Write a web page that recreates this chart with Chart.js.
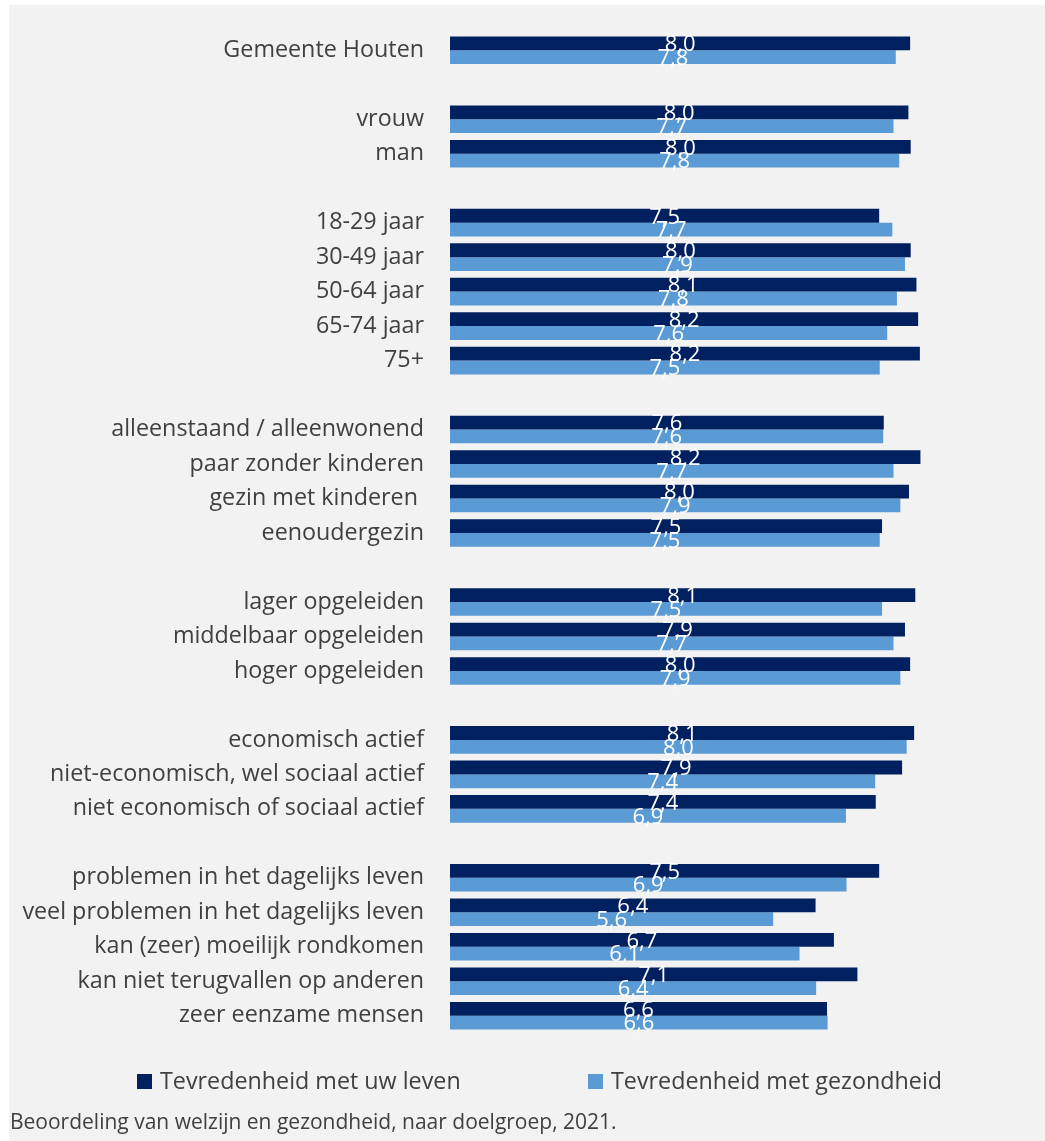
<!DOCTYPE html>
<html><head><meta charset="utf-8">
<script src="https://cdn.jsdelivr.net/npm/chart.js@4.4.1/dist/chart.umd.min.js"></script>
<style>
html,body{margin:0;padding:0;background:#fff;}
#wrap{position:absolute;left:0;top:0;width:1045px;height:1141px;}
</style></head><body>
<div id="wrap"><canvas id="c" width="1045" height="1141"></canvas></div>
<script>
const categories = ['Gemeente Houten','',
  'vrouw','man','',
  '18-29 jaar','30-49 jaar','50-64 jaar','65-74 jaar','75+','',
  'alleenstaand / alleenwonend','paar zonder kinderen','gezin met kinderen ','eenoudergezin','',
  'lager opgeleiden','middelbaar opgeleiden','hoger opgeleiden','',
  'economisch actief','niet-economisch, wel sociaal actief','niet economisch of sociaal actief','',
  'problemen in het dagelijks leven','veel problemen in het dagelijks leven','kan (zeer) moeilijk rondkomen','kan niet terugvallen op anderen','zeer eenzame mensen'];
const seriesNames = ['Tevredenheid met uw leven','Tevredenheid met gezondheid'];
const leven = [8.03,null,8.00,8.04,null,7.49,8.04,8.14,8.17,8.20,null,7.57,8.21,8.01,7.54,null,8.12,7.94,8.03,null,8.10,7.89,7.43,null,7.49,6.38,6.70,7.11,6.58];
const gezondheid = [7.78,null,7.74,7.84,null,7.72,7.94,7.80,7.63,7.50,null,7.56,7.74,7.86,7.50,null,7.54,7.74,7.86,null,7.97,7.42,6.91,null,6.92,5.64,6.10,6.39,6.59];
const caption = 'Beoordeling van welzijn en gezondheid, naar doelgroep, 2021.';

const fmt = v => v.toFixed(1).replace('.', ',');

const bgPlugin = {
  id:'bg',
  beforeDraw(chart){
    const ctx = chart.ctx;
    ctx.save();
    ctx.fillStyle = '#ffffff';
    ctx.fillRect(0,0,chart.width,chart.height);
    ctx.fillStyle = '#f2f2f2';
    ctx.fillRect(9,5,chart.width-9,chart.height-5);
    ctx.restore();
  }
};

const valueLabels = {
  id:'valueLabels',
  afterDatasetsDraw(chart){
    const ctx = chart.ctx;
    ctx.save();
    ctx.fillStyle = '#ffffff';
    ctx.font = '22px "Open Sans"';
    ctx.textAlign = 'center';
    ctx.textBaseline = 'middle';
    chart.data.datasets.forEach((ds, di) => {
      const meta = chart.getDatasetMeta(di);
      meta.data.forEach((el, i) => {
        const v = ds.data[i];
        if (v === null || v === undefined) return;
        const p = el.getProps(['x','y','base'], true);
        ctx.fillText(fmt(v), (p.x + p.base)/2, p.y + 1.5);
      });
    });
    ctx.restore();
  }
};

const legendCaption = {
  id:'legendCaption',
  afterDraw(chart){
    const ctx = chart.ctx;
    ctx.save();
    const xs = [137, 588];
    chart.data.datasets.forEach((ds, di) => {
      ctx.fillStyle = ds.backgroundColor;
      ctx.fillRect(xs[di], 1074, 15, 15);
      ctx.fillStyle = '#404040';
      ctx.font = '23.3px "Open Sans"';
      ctx.textAlign = 'left';
      ctx.textBaseline = 'middle';
      ctx.fillText(ds.label, xs[di] + 23, 1082);
    });
    ctx.font = '21px "Open Sans"';
    ctx.fillStyle = '#404040';
    ctx.textAlign = 'left';
    ctx.textBaseline = 'middle';
    ctx.fillText(caption, 10, 1123);
    ctx.restore();
  }
};

new Chart(document.getElementById('c'), {
  type:'bar',
  data:{
    labels: categories,
    datasets:[
      {label: seriesNames[0], data: leven, backgroundColor:'#002060', borderWidth:0, categoryPercentage:0.8, barPercentage:1.0},
      {label: seriesNames[1], data: gezondheid, backgroundColor:'#5B9BD5', borderWidth:0, categoryPercentage:0.8, barPercentage:1.0}
    ]
  },
  options:{
    indexAxis:'y',
    responsive:false,
    maintainAspectRatio:false,
    animation:false,
    devicePixelRatio:1,
    layout:{padding:{top:33, bottom:108, left:0, right:22}},
    plugins:{legend:{display:false}, tooltip:{enabled:false}, title:{display:false}},
    scales:{
      x:{display:false, min:0, max:10},
      y:{
        grid:{display:false, drawTicks:false},
        border:{display:false},
        ticks:{autoSkip:false, padding:26, color:'#404040', font:{family:'"Open Sans"', size:23.3}},
        afterFit(scale){ scale.width = 450; scale.paddingTop = 0; scale.paddingBottom = 0; }
      }
    }
  },
  plugins:[bgPlugin, valueLabels, legendCaption]
});
</script>
</body></html>
